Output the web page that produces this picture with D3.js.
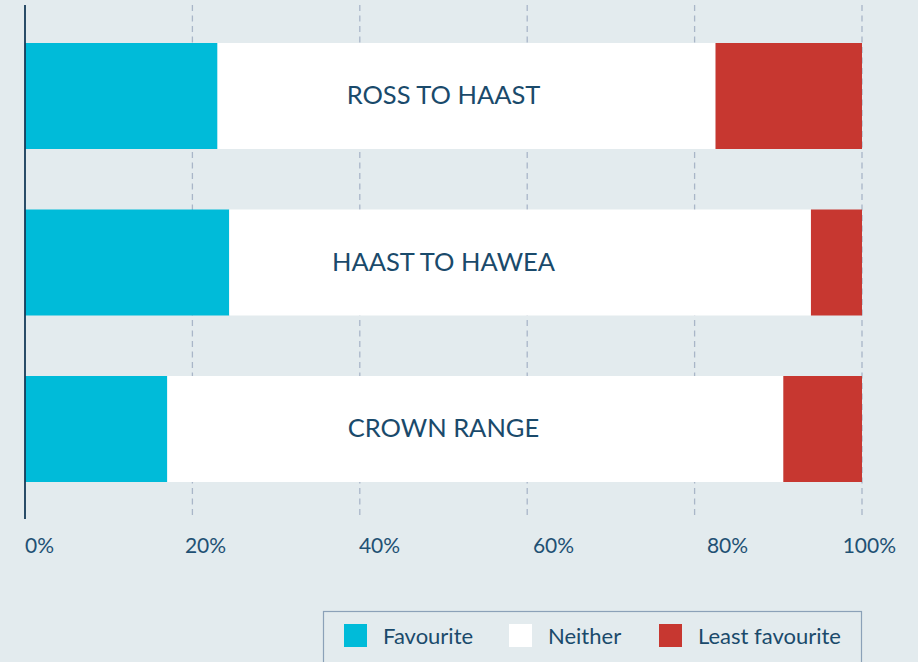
<!DOCTYPE html>
<html>
<head>
<meta charset="utf-8">
<script src="https://cdn.jsdelivr.net/npm/d3@7"></script>
<style>
  html, body { margin: 0; padding: 0; background: #e3ebee; }
  svg { display: block; font-family: Lato, "Open Sans", sans-serif; }
</style>
</head>
<body>
<svg id="chart" width="918" height="662"></svg>
<script>
// Routes and the share of answers per route (percent)
const routes     = ['ROSS TO HAAST', 'HAAST TO HAWEA', 'CROWN RANGE'];
const favourite  = [23.0, 24.4, 17.0];
const neither    = [59.5, 69.5, 73.6];
const leastFav   = [17.5, 6.1, 9.4];
const tickValues = [0, 20, 40, 60, 80, 100];
const seriesKeys  = ['Favourite', 'Neither', 'Least favourite'];
const seriesColor = ['#00bbd9', '#ffffff', '#c73730'];

const svg = d3.select('#chart');
const W = 918, H = 662;

const margin = { left: 25, right: 56, top: 5, axisBottom: 519 };
const x = d3.scaleLinear().domain([0, 100]).range([margin.left, W - margin.right]);
const y = d3.scaleBand().domain(routes)
  .range([12.75, 512.25]).paddingInner(0.3634).paddingOuter(0.1817);

// rows for the stack
const rows = routes.map((r, i) => ({
  route: r, Favourite: favourite[i], Neither: neither[i], 'Least favourite': leastFav[i]
}));
const stacked = d3.stack().keys(seriesKeys)(rows);

// Dashed grid lines
svg.append('g').selectAll('line')
  .data(tickValues.filter(t => t > 0))
  .join('line')
  .attr('x1', d => x(d)).attr('x2', d => x(d))
  .attr('y1', margin.top).attr('y2', margin.axisBottom)
  .attr('stroke', '#a9b6c8').attr('stroke-width', 1.3)
  .attr('stroke-dasharray', '6,4.5');

// Bars
stacked.forEach((s, si) => {
  svg.append('g').selectAll('rect')
    .data(s)
    .join('rect')
    .attr('x', d => x(d[0]))
    .attr('width', d => x(d[1]) - x(d[0]))
    .attr('y', d => y(d.data.route))
    .attr('height', y.bandwidth())
    .attr('fill', seriesColor[si]);
});

// Bar labels
svg.append('g').selectAll('text')
  .data(routes)
  .join('text')
  .attr('x', (x(0) + x(100)) / 2)
  .attr('y', d => y(d) + y.bandwidth() / 2)
  .attr('dy', '0.33em')
  .attr('text-anchor', 'middle')
  .attr('fill', '#1a4a6b').attr('font-size', 25.5)
  .text(d => d);

// Left axis line
svg.append('line')
  .attr('x1', x(0)).attr('x2', x(0))
  .attr('y1', margin.top).attr('y2', margin.axisBottom)
  .attr('stroke', '#163b58').attr('stroke-width', 1.8);

// Tick labels — spread on their own scale, kept inside the page
const labelX = d3.scaleLinear().domain([0, 100]).range([31.5, 901.5]);
svg.append('g').selectAll('text')
  .data(tickValues)
  .join('text')
  .attr('x', (d, i) => i === 0 ? x(0) : i === tickValues.length - 1 ? 896 : labelX(d))
  .attr('y', 553)
  .attr('text-anchor', (d, i) => i === 0 ? 'start' : i === tickValues.length - 1 ? 'end' : 'middle')
  .attr('fill', '#1f5174').attr('font-size', 21)
  .text(d => d + '%');

// Legend
const legend = svg.append('g');
legend.append('rect')
  .attr('x', 323.5).attr('y', 611.5)
  .attr('width', 538).attr('height', 70)
  .attr('fill', 'none').attr('stroke', '#8ba1b8').attr('stroke-width', 1.2);

const legendX = [344, 509, 659];
seriesKeys.forEach((k, i) => {
  legend.append('rect')
    .attr('x', legendX[i]).attr('y', 624)
    .attr('width', 23).attr('height', 23)
    .attr('fill', seriesColor[i]);
  legend.append('text')
    .attr('x', legendX[i] + 39).attr('y', 644)
    .attr('fill', '#1a4a6b').attr('font-size', 22)
    .text(k);
});
</script>
</body>
</html>
